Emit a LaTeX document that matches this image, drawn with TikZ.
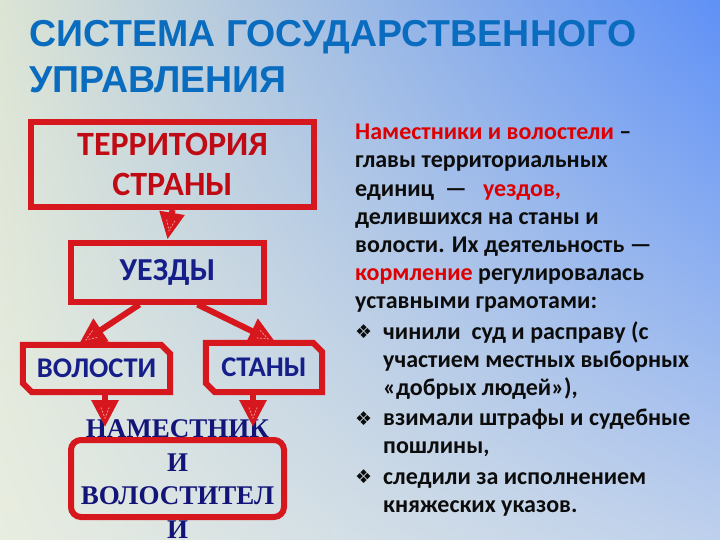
\documentclass[tikz,border=0pt]{standalone}
\usepackage{fontspec}
\setmainfont{Carlito}
\newfontfamily\titlefont{Liberation Sans}
\newfontfamily\serifb{Liberation Serif}
\newfontfamily\symfont{DejaVu Sans}
\usetikzlibrary{arrows.meta,calc,shadings}
\definecolor{bgUL}{RGB}{220,228,212}
\definecolor{bgUR}{RGB}{94,144,246}
\definecolor{bgLL}{RGB}{232,237,224}
\definecolor{bgLR}{RGB}{190,208,236}
\definecolor{boxred}{RGB}{214,24,30}
\definecolor{darkred}{RGB}{192,10,20}
\definecolor{navy}{RGB}{22,30,138}
\definecolor{navyser}{RGB}{18,20,120}
\definecolor{titleblue}{RGB}{10,108,190}
\definecolor{txtred}{RGB}{222,0,0}
\definecolor{txtblack}{RGB}{12,12,12}
\definecolor{arrhl}{RGB}{248,160,160}
\newcommand{\bul}{\makebox[28pt][l]{\raisebox{0.5pt}{\symfont\fontsize{19}{19}\selectfont ❖}}}
\newcommand{\ind}{\hspace*{28pt}}
\tikzset{
  boxframe/.style={draw=boxred, line width=6pt, inner sep=0pt},
  boxline/.style={draw=boxred, line width=6pt, line join=miter},
  lbl/.style={inner sep=0pt, font=\bfseries\fontsize{28.5}{32}\selectfont, text=navy},
  arr/.style={draw=boxred, line width=6pt, -{Triangle[width=26pt,length=27pt]}},
  hl/.style={draw=arrhl, line width=0.7pt, dash pattern=on 2pt off 1.5pt},
}
\begin{document}
\begin{tikzpicture}[x=1pt,y=-1pt]
\shade[upper left=bgUL, upper right=bgUR, lower left=bgLL, lower right=bgLR] (0,0) rectangle (720,540);
\useasboundingbox (0,0) rectangle (720,540);

% title
\node[anchor=base west, inner sep=0pt, font=\titlefont\bfseries\fontsize{37.5}{46}\selectfont, text=titleblue] (title1) at (29,47) {СИСТЕМА ГОСУДАРСТВЕННОГО};
\node[anchor=base west, inner sep=0pt, font=\titlefont\bfseries\fontsize{37.5}{46}\selectfont, text=titleblue] (title2) at (29,93) {УПРАВЛЕНИЯ};

% boxes
\node[boxframe, minimum width=283pt, minimum height=85pt, text=darkred, align=center,
      font=\bfseries\fontsize{34}{40}\selectfont] (terr) at (172.5,164.5) {ТЕРРИТОРИЯ\\СТРАНЫ};
\node[boxframe, minimum width=193pt, minimum height=59pt, text=navy,
      font=\bfseries\fontsize{32}{38}\selectfont] (uez) at (167.5,272) {УЕЗДЫ};

\node[lbl, minimum width=147pt, minimum height=47pt] (vol) at (96.5,368.5) {ВОЛОСТИ};
\draw[boxline] (vol.north west) -- ([xshift=-9pt]vol.north east) -- ([yshift=-9pt]vol.north east)
  -- (vol.south east) -- ([xshift=9pt]vol.south west) -- ([yshift=9pt]vol.south west) -- cycle;
\node[lbl, minimum width=116pt, minimum height=49pt] (stan) at (264,367.5) {СТАНЫ};
\draw[boxline] (stan.north west) -- ([xshift=-9pt]stan.north east) -- ([yshift=-9pt]stan.north east)
  -- (stan.south east) -- ([xshift=9pt]stan.south west) -- ([yshift=9pt]stan.south west) -- cycle;

\node[boxframe, rounded corners=10pt, minimum width=213pt, minimum height=77pt] (nam) at (177.5,478.5) {};
\node[inner sep=0pt, align=center, text=navyser, font=\serifb\bfseries\fontsize{27}{33.5}\selectfont] (namtxt) at (177.5,479) {НАМЕСТНИК\\И\\ВОЛОСТИТЕЛ\\И};

% connector end points
\coordinate (s1) at (terr.south);            \coordinate (e1) at (uez.north);
\coordinate (s2) at ([xshift=-28pt]uez.south); \coordinate (e2) at ([xshift=-18pt]vol.north);
\coordinate (s3) at ([xshift=30pt]uez.south);  \coordinate (e3) at ([xshift=12pt]stan.north);
\coordinate (s4) at ([xshift=8.5pt]vol.south); \coordinate (e4) at ([xshift=-72.5pt,yshift=10pt]nam.north);
\coordinate (s5) at ([xshift=-11pt]stan.south);\coordinate (e5) at ([xshift=75.5pt,yshift=10pt]nam.north);

% connectors
\draw[arr, -{Triangle[width=24pt,length=27pt]}] (s1) -- (e1);
\draw[arr] (s2) -- (e2);
\draw[arr] (s3) -- (e3);
\draw[arr] (s4) -- (e4);
\draw[arr] (s5) -- (e5);
\foreach \i in {1,...,5}{
  \draw[hl] ($(e\i)!20pt!12:(s\i)$) -- ($(e\i)!9pt!(s\i)$) -- ($(e\i)!20pt!-12:(s\i)$);
}

% description
\node[anchor=north west, inner sep=0pt, align=left, text=txtblack,
      font=\bfseries\fontsize{24}{28.2}\selectfont] (desc) at (355,124) {%
{\color{txtred}Наместники и волостели} –\\
главы территориальных\\
единиц \ — \ \ {\color{txtred}уездов,}\\
делившихся на станы и\\
волости. Их деятельность —\\
{\color{txtred}кормление} регулировалась\\
уставными грамотами:\\[2pt]
\bul чинили \ суд и расправу (с\\
\ind участием местных выборных\\
\ind «добрых людей»),\\[2pt]
\bul взимали штрафы и судебные\\
\ind пошлины,\\[2pt]
\bul следили за исполнением\\
\ind княжеских указов.};
\end{tikzpicture}
\end{document}
